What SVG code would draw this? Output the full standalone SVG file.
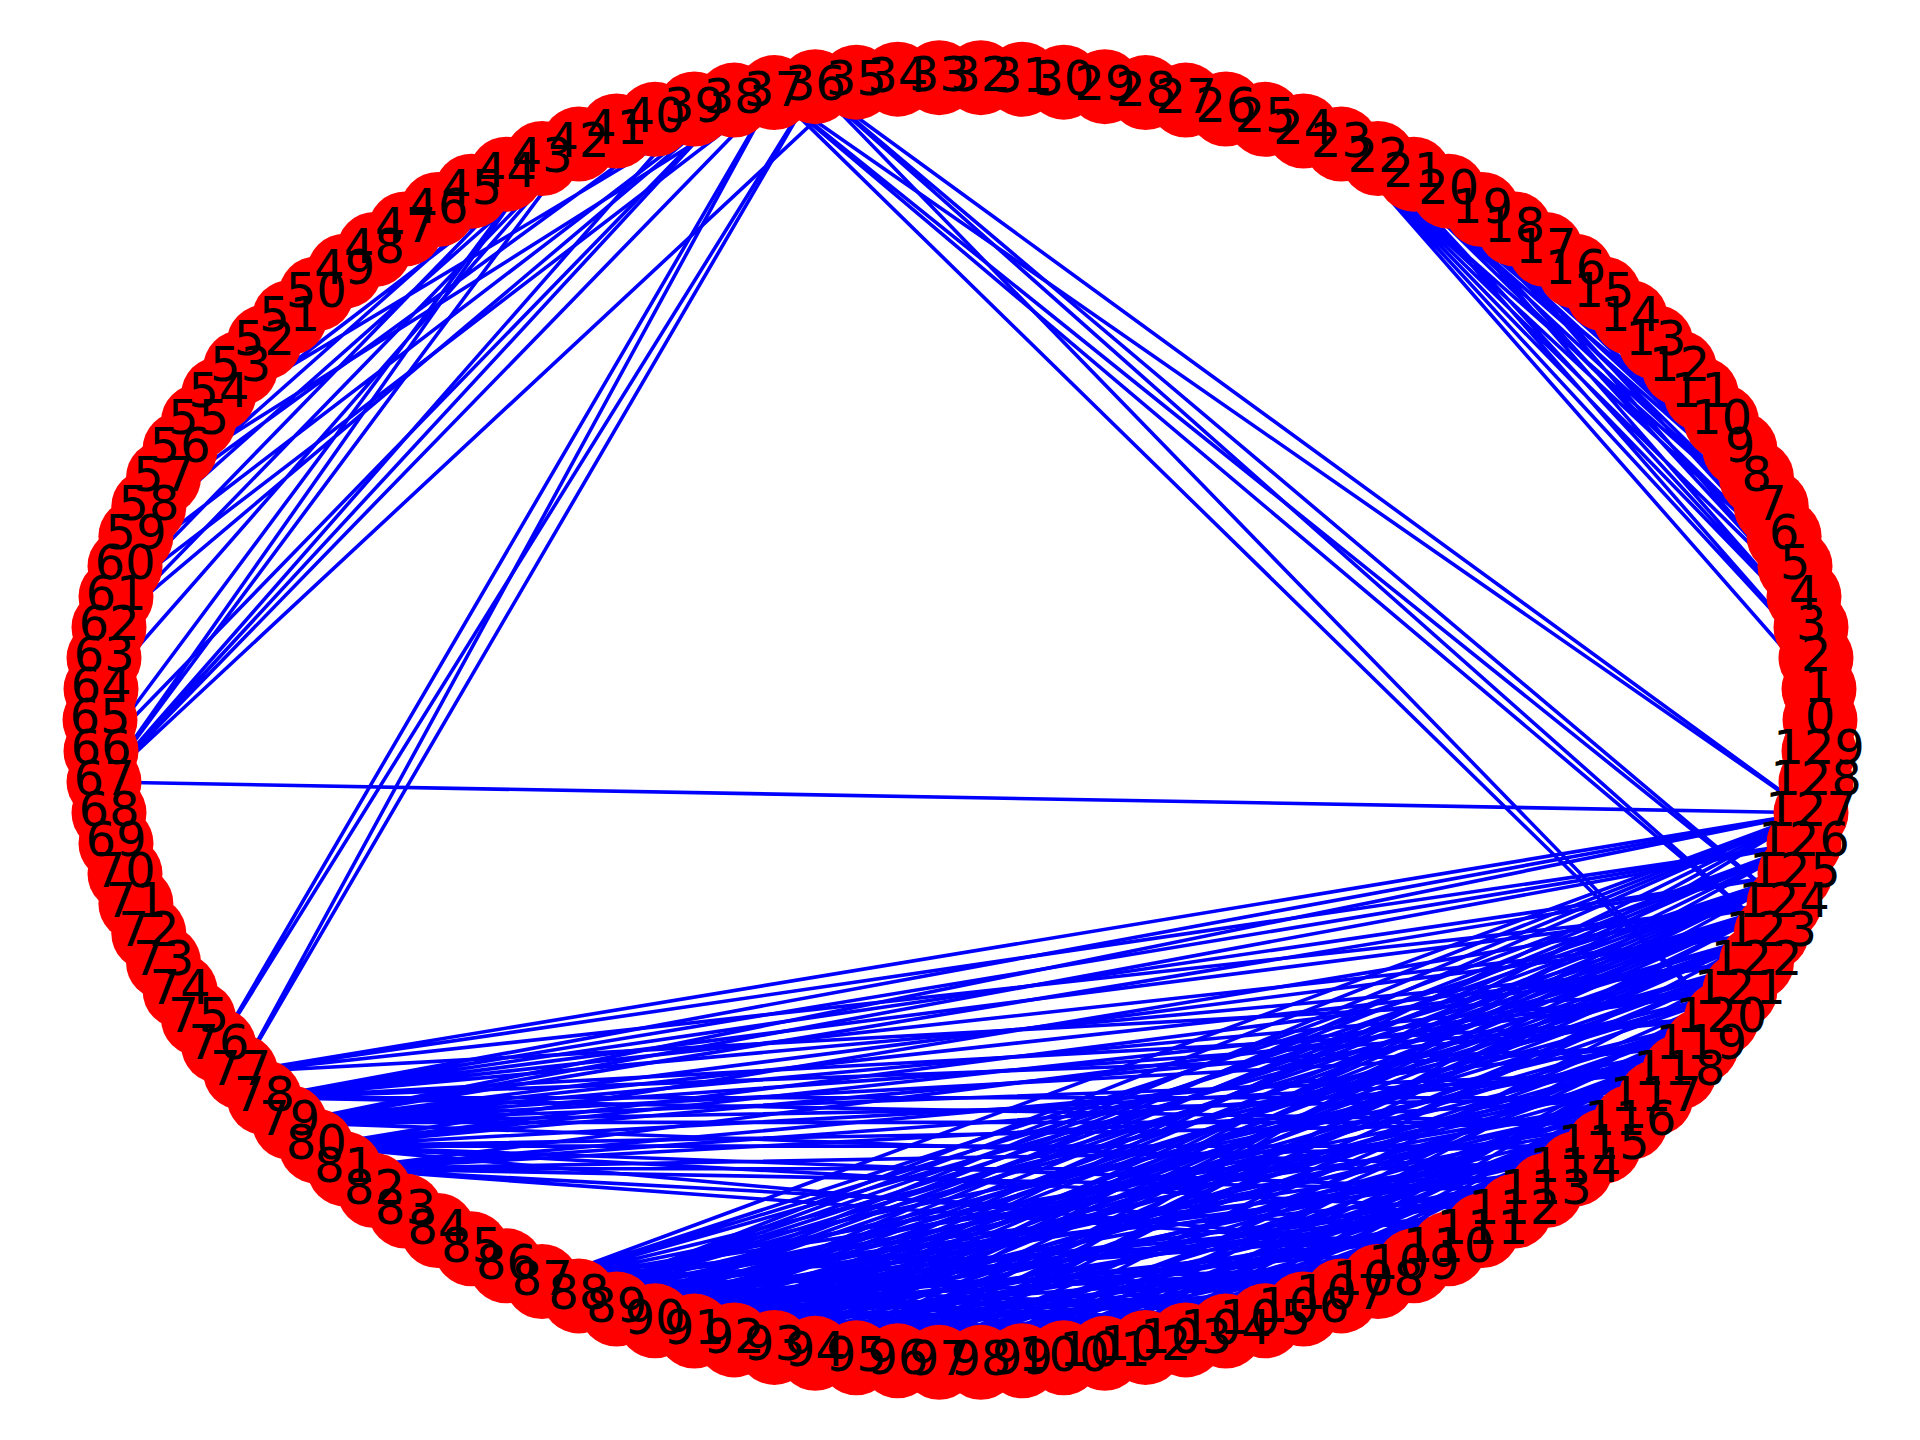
<svg xmlns="http://www.w3.org/2000/svg" width="1920" height="1440" viewBox="0 0 1920 1440">
<style>
.e{stroke:#0000ff;stroke-width:3.6;fill:none;stroke-linecap:butt}
.n{fill:#ff0000}
.t{font-family:"DejaVu Sans","Liberation Sans",sans-serif;font-size:48px;text-anchor:middle;fill:#000000}
</style>
<rect width="1920" height="1440" fill="#ffffff"/>
<g id="edges">
<path id="e36" class="e" d="M815.2 86.7 1721.5 1018.6M815.2 86.7 1771.3 933.3M815.2 86.7 1784.1 903.7M815.2 86.7 1811 812.8"/>
<path id="e37" class="e" d="M774.4 92.6 1721.5 1018.6M774.4 92.6 1771.3 933.3M774.4 92.6 1784.1 903.7M774.4 92.6 1811 812.8M774.4 92.6 163.5 477.7M774.4 92.6 116 596.6"/>
<path id="e67" class="e" d="M104 782 1811 812.8M104 782 856.3 82.2M104 782 774.4 92.6M104 782 734.1 100.1M104 782 694.3 109M104 782 578.7 144.1M104 782 542 158.5"/>
<path id="e76" class="e" d="M218.7 1045.7 815.2 86.7M218.7 1045.7 774.4 92.6"/>
<path id="e77" class="e" d="M240.6 1072 815.2 86.7M240.6 1072 774.4 92.6M240.6 1072 1811 812.8M240.6 1072 1804 843.4M240.6 1072 1784.1 903.7M240.6 1072 1739.9 990.8"/>
<path id="eleft" class="e" d="M101 751 734.1 100.1M101 751 542 158.5M101 689 578.7 144.1M109 627.2 734.1 100.1M109 627.2 578.7 144.1M116 596.6 542 158.5M125 566.2 734.1 100.1M135.9 536.3 578.7 144.1M148.8 506.7 694.3 109M148.8 506.7 542 158.5M180.1 449.2 578.7 144.1M198.5 421.4 734.1 100.1M198.5 421.4 542 158.5M218.7 394.3 578.7 144.1M240.6 368 542 158.5"/>
<path id="efan" class="e" d="M1341.3 144.1 1819 689M1341.3 144.1 1816 658M1341.3 144.1 1811 627.2M1341.3 144.1 1804 596.6M1341.3 144.1 1795 566.2M1341.3 144.1 1784.1 536.3M1378 158.5 1816 658M1378 158.5 1811 627.2M1378 158.5 1795 566.2M1378 158.5 1784.1 536.3M1378 158.5 1771.3 506.7M1378 158.5 1756.5 477.7M1413.8 174.2 1811 627.2M1413.8 174.2 1804 596.6M1413.8 174.2 1784.1 536.3M1413.8 174.2 1771.3 506.7M1413.8 174.2 1756.5 477.7M1413.8 174.2 1739.9 449.2M1413.8 174.2 1721.5 421.4M1448.5 191.2 1804 596.6M1448.5 191.2 1795 566.2M1448.5 191.2 1771.3 506.7M1448.5 191.2 1756.5 477.7M1448.5 191.2 1721.5 421.4M1448.5 191.2 1701.3 394.3M1448.5 191.2 1679.4 368M1482.2 209.5 1784.1 536.3M1482.2 209.5 1771.3 506.7M1482.2 209.5 1756.5 477.7M1482.2 209.5 1721.5 421.4M1482.2 209.5 1701.3 394.3M1482.2 209.5 1679.4 368M1514.6 228.9 1756.5 477.7M1514.6 228.9 1739.9 449.2M1514.6 228.9 1721.5 421.4M1514.6 228.9 1679.4 368M1514.6 228.9 1655.8 342.4M1545.7 249.5 1739.9 449.2M1545.7 249.5 1721.5 421.4M1545.7 249.5 1679.4 368M1575.4 271.2 1721.5 421.4M1575.4 271.2 1679.4 368"/>
<path id="e78" class="e" d="M264.3 1097.7 1811 812.8M264.3 1097.7 1804 843.4M264.3 1097.7 1795 873.8M264.3 1097.7 1784.1 903.7M264.3 1097.7 1771.3 933.3M264.3 1097.7 1756.5 962.3M264.3 1097.7 1721.5 1018.6M264.3 1097.7 1701.3 1045.7M264.3 1097.7 1655.8 1097.7M264.3 1097.7 1630.4 1122.4"/>
<path id="e79" class="e" d="M289.6 1122.4 1811 812.8M289.6 1122.4 1804 843.4M289.6 1122.4 1795 873.8M289.6 1122.4 1771.3 933.3M289.6 1122.4 1756.5 962.3M289.6 1122.4 1739.9 990.8M289.6 1122.4 1721.5 1018.6M289.6 1122.4 1701.3 1045.7M289.6 1122.4 1679.4 1072M289.6 1122.4 1655.8 1097.7M289.6 1122.4 1630.4 1122.4M289.6 1122.4 1575.4 1168.8"/>
<path id="e80" class="e" d="M316.3 1146.1 1784.1 903.7M316.3 1146.1 1756.5 962.3M316.3 1146.1 1739.9 990.8M316.3 1146.1 1721.5 1018.6M316.3 1146.1 1679.4 1072M316.3 1146.1 1630.4 1122.4M316.3 1146.1 1603.7 1146.1M316.3 1146.1 1545.7 1190.5M316.3 1146.1 1514.6 1211.1M316.3 1146.1 1448.5 1248.8"/>
<path id="e81" class="e" d="M344.6 1168.8 1739.9 990.8M344.6 1168.8 1701.3 1045.7M344.6 1168.8 1679.4 1072M344.6 1168.8 1655.8 1097.7M344.6 1168.8 1603.7 1146.1M344.6 1168.8 1575.4 1168.8M344.6 1168.8 1545.7 1190.5M344.6 1168.8 1482.2 1230.5M344.6 1168.8 1448.5 1248.8"/>
<path id="e87" class="e" d="M542 1281.5 897.7 1360.8M542 1281.5 1063.7 1357.8M542 1281.5 1145.6 1347.4M542 1281.5 1225.8 1331.1M542 1281.5 1303.5 1309M542 1281.5 1378 1281.5M542 1281.5 1482.2 1230.5M542 1281.5 1545.7 1190.5M542 1281.5 1575.4 1168.8M542 1281.5 1630.4 1122.4M542 1281.5 1655.8 1097.7M542 1281.5 1701.3 1045.7M542 1281.5 1739.9 990.8M542 1281.5 1771.3 933.3M542 1281.5 1784.1 903.7M542 1281.5 1795 873.8M542 1281.5 1811 812.8"/>
<path id="e88" class="e" d="M578.7 1295.9 856.3 1357.8M578.7 1295.9 939.2 1362.3M578.7 1295.9 1022.3 1360.8M578.7 1295.9 1104.8 1353.3M578.7 1295.9 1185.9 1339.9M578.7 1295.9 1265 1320.8M578.7 1295.9 1303.5 1309M578.7 1295.9 1413.8 1265.8M578.7 1295.9 1482.2 1230.5M578.7 1295.9 1514.6 1211.1M578.7 1295.9 1575.4 1168.8M578.7 1295.9 1603.7 1146.1M578.7 1295.9 1655.8 1097.7M578.7 1295.9 1679.4 1072M578.7 1295.9 1721.5 1018.6M578.7 1295.9 1756.5 962.3M578.7 1295.9 1784.1 903.7M578.7 1295.9 1804 843.4M578.7 1295.9 1795 873.8M578.7 1295.9 1811 812.8M578.7 1295.9 1771.3 933.3"/>
<path id="e89" class="e" d="M616.5 1309 856.3 1357.8M616.5 1309 939.2 1362.3M616.5 1309 1022.3 1360.8M616.5 1309 1104.8 1353.3M616.5 1309 1185.9 1339.9M616.5 1309 1265 1320.8M616.5 1309 1341.3 1295.9M616.5 1309 1413.8 1265.8M616.5 1309 1448.5 1248.8M616.5 1309 1514.6 1211.1M616.5 1309 1545.7 1190.5M616.5 1309 1603.7 1146.1M616.5 1309 1630.4 1122.4M616.5 1309 1679.4 1072M616.5 1309 1701.3 1045.7M616.5 1309 1739.9 990.8M616.5 1309 1756.5 962.3M616.5 1309 1784.1 903.7M616.5 1309 1804 843.4M616.5 1309 1811 812.8M616.5 1309 1795 873.8"/>
<path id="e90" class="e" d="M655 1320.8 815.2 1353.3M655 1320.8 897.7 1360.8M655 1320.8 980.8 1362.3M655 1320.8 1063.7 1357.8M655 1320.8 1145.6 1347.4M655 1320.8 1225.8 1331.1M655 1320.8 1341.3 1295.9M655 1320.8 1413.8 1265.8M655 1320.8 1482.2 1230.5M655 1320.8 1545.7 1190.5M655 1320.8 1603.7 1146.1M655 1320.8 1655.8 1097.7M655 1320.8 1679.4 1072M655 1320.8 1721.5 1018.6M655 1320.8 1739.9 990.8M655 1320.8 1771.3 933.3M655 1320.8 1784.1 903.7M655 1320.8 1795 873.8M655 1320.8 1804 843.4M655 1320.8 1811 812.8"/>
<path id="e91" class="e" d="M694.3 1331.1 897.7 1360.8M694.3 1331.1 980.8 1362.3M694.3 1331.1 1063.7 1357.8M694.3 1331.1 1145.6 1347.4M694.3 1331.1 1265 1320.8M694.3 1331.1 1341.3 1295.9M694.3 1331.1 1413.8 1265.8M694.3 1331.1 1482.2 1230.5M694.3 1331.1 1545.7 1190.5M694.3 1331.1 1603.7 1146.1M694.3 1331.1 1655.8 1097.7M694.3 1331.1 1701.3 1045.7M694.3 1331.1 1721.5 1018.6M694.3 1331.1 1756.5 962.3M694.3 1331.1 1771.3 933.3M694.3 1331.1 1784.1 903.7M694.3 1331.1 1795 873.8M694.3 1331.1 1804 843.4"/>
<path id="e92" class="e" d="M734.1 1339.9 939.2 1362.3M734.1 1339.9 1022.3 1360.8M734.1 1339.9 1104.8 1353.3M734.1 1339.9 1185.9 1339.9M734.1 1339.9 1303.5 1309M734.1 1339.9 1378 1281.5M734.1 1339.9 1448.5 1248.8M734.1 1339.9 1514.6 1211.1M734.1 1339.9 1575.4 1168.8M734.1 1339.9 1630.4 1122.4M734.1 1339.9 1679.4 1072M734.1 1339.9 1701.3 1045.7M734.1 1339.9 1739.9 990.8M734.1 1339.9 1756.5 962.3M734.1 1339.9 1771.3 933.3M734.1 1339.9 1784.1 903.7M734.1 1339.9 1795 873.8M734.1 1339.9 1811 812.8"/>
<path id="ebottom" class="e" d="M774.4 1347.4 1448.5 1248.8M774.4 1347.4 1514.6 1211.1M774.4 1347.4 1603.7 1146.1M774.4 1347.4 1655.8 1097.7M774.4 1347.4 1721.5 1018.6M774.4 1347.4 1771.3 933.3M774.4 1347.4 1784.1 903.7M774.4 1347.4 1795 873.8M774.4 1347.4 1804 843.4M815.2 1353.3 1448.5 1248.8M815.2 1353.3 1514.6 1211.1M815.2 1353.3 1575.4 1168.8M815.2 1353.3 1655.8 1097.7M815.2 1353.3 1721.5 1018.6M815.2 1353.3 1756.5 962.3M815.2 1353.3 1771.3 933.3M815.2 1353.3 1795 873.8M815.2 1353.3 1811 812.8M856.3 1357.8 1413.8 1265.8M856.3 1357.8 1482.2 1230.5M856.3 1357.8 1575.4 1168.8M856.3 1357.8 1630.4 1122.4M856.3 1357.8 1701.3 1045.7M856.3 1357.8 1756.5 962.3M856.3 1357.8 1784.1 903.7M856.3 1357.8 1804 843.4M897.7 1360.8 1482.2 1230.5M897.7 1360.8 1545.7 1190.5M897.7 1360.8 1630.4 1122.4M897.7 1360.8 1679.4 1072M897.7 1360.8 1739.9 990.8M897.7 1360.8 1784.1 903.7M897.7 1360.8 1795 873.8M897.7 1360.8 1811 812.8M939.2 1362.3 1448.5 1248.8M939.2 1362.3 1545.7 1190.5M939.2 1362.3 1603.7 1146.1M939.2 1362.3 1679.4 1072M939.2 1362.3 1721.5 1018.6M939.2 1362.3 1771.3 933.3M980.8 1362.3 1448.5 1248.8M980.8 1362.3 1514.6 1211.1M980.8 1362.3 1603.7 1146.1M980.8 1362.3 1655.8 1097.7M980.8 1362.3 1721.5 1018.6M980.8 1362.3 1756.5 962.3M1022.3 1360.8 1448.5 1248.8M1022.3 1360.8 1514.6 1211.1M1022.3 1360.8 1575.4 1168.8M1022.3 1360.8 1655.8 1097.7M1022.3 1360.8 1701.3 1045.7M1022.3 1360.8 1739.9 990.8M1063.7 1357.8 1482.2 1230.5M1063.7 1357.8 1575.4 1168.8M1063.7 1357.8 1630.4 1122.4M1063.7 1357.8 1701.3 1045.7M1063.7 1357.8 1739.9 990.8M1104.8 1353.3 1482.2 1230.5M1104.8 1353.3 1545.7 1190.5M1104.8 1353.3 1630.4 1122.4M1104.8 1353.3 1679.4 1072M1104.8 1353.3 1721.5 1018.6M1145.6 1347.4 1448.5 1248.8M1145.6 1347.4 1545.7 1190.5M1145.6 1347.4 1603.7 1146.1M1145.6 1347.4 1679.4 1072M1145.6 1347.4 1721.5 1018.6M1185.9 1339.9 1514.6 1211.1M1185.9 1339.9 1603.7 1146.1M1185.9 1339.9 1655.8 1097.7M1185.9 1339.9 1721.5 1018.6M1225.8 1331.1 1514.6 1211.1M1225.8 1331.1 1575.4 1168.8M1225.8 1331.1 1655.8 1097.7M1225.8 1331.1 1701.3 1045.7M1265 1320.8 1482.2 1230.5M1265 1320.8 1575.4 1168.8M1265 1320.8 1630.4 1122.4M1303.5 1309 1545.7 1190.5M1303.5 1309 1630.4 1122.4M1303.5 1309 1679.4 1072M1341.3 1295.9 1603.7 1146.1M1341.3 1295.9 1679.4 1072M1378 1281.5 1630.4 1122.4M1378 1281.5 1721.5 1018.6"/>
</g>
<g id="nodes">
<g id="node-0"><circle class="n" cx="1820.0" cy="720.0" r="37.5"/></g>
<g id="node-1"><circle class="n" cx="1819.0" cy="689.0" r="37.5"/></g>
<g id="node-2"><circle class="n" cx="1816.0" cy="658.0" r="37.5"/></g>
<g id="node-3"><circle class="n" cx="1811.0" cy="627.2" r="37.5"/></g>
<g id="node-4"><circle class="n" cx="1804.0" cy="596.6" r="37.5"/></g>
<g id="node-5"><circle class="n" cx="1795.0" cy="566.2" r="37.5"/></g>
<g id="node-6"><circle class="n" cx="1784.1" cy="536.3" r="37.5"/></g>
<g id="node-7"><circle class="n" cx="1771.3" cy="506.7" r="37.5"/></g>
<g id="node-8"><circle class="n" cx="1756.5" cy="477.7" r="37.5"/></g>
<g id="node-9"><circle class="n" cx="1739.9" cy="449.2" r="37.5"/></g>
<g id="node-10"><circle class="n" cx="1721.5" cy="421.4" r="37.5"/></g>
<g id="node-11"><circle class="n" cx="1701.3" cy="394.3" r="37.5"/></g>
<g id="node-12"><circle class="n" cx="1679.4" cy="368.0" r="37.5"/></g>
<g id="node-13"><circle class="n" cx="1655.8" cy="342.4" r="37.5"/></g>
<g id="node-14"><circle class="n" cx="1630.4" cy="317.6" r="37.5"/></g>
<g id="node-15"><circle class="n" cx="1603.7" cy="293.9" r="37.5"/></g>
<g id="node-16"><circle class="n" cx="1575.4" cy="271.2" r="37.5"/></g>
<g id="node-17"><circle class="n" cx="1545.7" cy="249.5" r="37.5"/></g>
<g id="node-18"><circle class="n" cx="1514.6" cy="228.9" r="37.5"/></g>
<g id="node-19"><circle class="n" cx="1482.2" cy="209.5" r="37.5"/></g>
<g id="node-20"><circle class="n" cx="1448.5" cy="191.2" r="37.5"/></g>
<g id="node-21"><circle class="n" cx="1413.8" cy="174.2" r="37.5"/></g>
<g id="node-22"><circle class="n" cx="1378.0" cy="158.5" r="37.5"/></g>
<g id="node-23"><circle class="n" cx="1341.3" cy="144.1" r="37.5"/></g>
<g id="node-24"><circle class="n" cx="1303.5" cy="131.0" r="37.5"/></g>
<g id="node-25"><circle class="n" cx="1265.0" cy="119.3" r="37.5"/></g>
<g id="node-26"><circle class="n" cx="1225.8" cy="109.0" r="37.5"/></g>
<g id="node-27"><circle class="n" cx="1185.9" cy="100.1" r="37.5"/></g>
<g id="node-28"><circle class="n" cx="1145.6" cy="92.6" r="37.5"/></g>
<g id="node-29"><circle class="n" cx="1104.8" cy="86.7" r="37.5"/></g>
<g id="node-30"><circle class="n" cx="1063.7" cy="82.2" r="37.5"/></g>
<g id="node-31"><circle class="n" cx="1022.3" cy="79.2" r="37.5"/></g>
<g id="node-32"><circle class="n" cx="980.8" cy="77.7" r="37.5"/></g>
<g id="node-33"><circle class="n" cx="939.2" cy="77.7" r="37.5"/></g>
<g id="node-34"><circle class="n" cx="897.7" cy="79.2" r="37.5"/></g>
<g id="node-35"><circle class="n" cx="856.3" cy="82.2" r="37.5"/></g>
<g id="node-36"><circle class="n" cx="815.2" cy="86.7" r="37.5"/></g>
<g id="node-37"><circle class="n" cx="774.4" cy="92.6" r="37.5"/></g>
<g id="node-38"><circle class="n" cx="734.1" cy="100.1" r="37.5"/></g>
<g id="node-39"><circle class="n" cx="694.3" cy="109.0" r="37.5"/></g>
<g id="node-40"><circle class="n" cx="655.0" cy="119.3" r="37.5"/></g>
<g id="node-41"><circle class="n" cx="616.5" cy="131.0" r="37.5"/></g>
<g id="node-42"><circle class="n" cx="578.7" cy="144.1" r="37.5"/></g>
<g id="node-43"><circle class="n" cx="542.0" cy="158.5" r="37.5"/></g>
<g id="node-44"><circle class="n" cx="506.2" cy="174.2" r="37.5"/></g>
<g id="node-45"><circle class="n" cx="471.5" cy="191.2" r="37.5"/></g>
<g id="node-46"><circle class="n" cx="437.8" cy="209.5" r="37.5"/></g>
<g id="node-47"><circle class="n" cx="405.4" cy="228.9" r="37.5"/></g>
<g id="node-48"><circle class="n" cx="374.3" cy="249.5" r="37.5"/></g>
<g id="node-49"><circle class="n" cx="344.6" cy="271.2" r="37.5"/></g>
<g id="node-50"><circle class="n" cx="316.3" cy="293.9" r="37.5"/></g>
<g id="node-51"><circle class="n" cx="289.6" cy="317.6" r="37.5"/></g>
<g id="node-52"><circle class="n" cx="264.3" cy="342.4" r="37.5"/></g>
<g id="node-53"><circle class="n" cx="240.6" cy="368.0" r="37.5"/></g>
<g id="node-54"><circle class="n" cx="218.7" cy="394.3" r="37.5"/></g>
<g id="node-55"><circle class="n" cx="198.5" cy="421.4" r="37.5"/></g>
<g id="node-56"><circle class="n" cx="180.1" cy="449.2" r="37.5"/></g>
<g id="node-57"><circle class="n" cx="163.5" cy="477.7" r="37.5"/></g>
<g id="node-58"><circle class="n" cx="148.8" cy="506.7" r="37.5"/></g>
<g id="node-59"><circle class="n" cx="135.9" cy="536.3" r="37.5"/></g>
<g id="node-60"><circle class="n" cx="125.0" cy="566.2" r="37.5"/></g>
<g id="node-61"><circle class="n" cx="116.0" cy="596.6" r="37.5"/></g>
<g id="node-62"><circle class="n" cx="109.0" cy="627.2" r="37.5"/></g>
<g id="node-63"><circle class="n" cx="104.0" cy="658.0" r="37.5"/></g>
<g id="node-64"><circle class="n" cx="101.0" cy="689.0" r="37.5"/></g>
<g id="node-65"><circle class="n" cx="100.0" cy="720.0" r="37.5"/></g>
<g id="node-66"><circle class="n" cx="101.0" cy="751.0" r="37.5"/></g>
<g id="node-67"><circle class="n" cx="104.0" cy="782.0" r="37.5"/></g>
<g id="node-68"><circle class="n" cx="109.0" cy="812.8" r="37.5"/></g>
<g id="node-69"><circle class="n" cx="116.0" cy="843.4" r="37.5"/></g>
<g id="node-70"><circle class="n" cx="125.0" cy="873.8" r="37.5"/></g>
<g id="node-71"><circle class="n" cx="135.9" cy="903.7" r="37.5"/></g>
<g id="node-72"><circle class="n" cx="148.8" cy="933.3" r="37.5"/></g>
<g id="node-73"><circle class="n" cx="163.5" cy="962.3" r="37.5"/></g>
<g id="node-74"><circle class="n" cx="180.1" cy="990.8" r="37.5"/></g>
<g id="node-75"><circle class="n" cx="198.5" cy="1018.6" r="37.5"/></g>
<g id="node-76"><circle class="n" cx="218.7" cy="1045.7" r="37.5"/></g>
<g id="node-77"><circle class="n" cx="240.6" cy="1072.0" r="37.5"/></g>
<g id="node-78"><circle class="n" cx="264.3" cy="1097.7" r="37.5"/></g>
<g id="node-79"><circle class="n" cx="289.6" cy="1122.4" r="37.5"/></g>
<g id="node-80"><circle class="n" cx="316.3" cy="1146.1" r="37.5"/></g>
<g id="node-81"><circle class="n" cx="344.6" cy="1168.8" r="37.5"/></g>
<g id="node-82"><circle class="n" cx="374.3" cy="1190.5" r="37.5"/></g>
<g id="node-83"><circle class="n" cx="405.4" cy="1211.1" r="37.5"/></g>
<g id="node-84"><circle class="n" cx="437.8" cy="1230.5" r="37.5"/></g>
<g id="node-85"><circle class="n" cx="471.5" cy="1248.8" r="37.5"/></g>
<g id="node-86"><circle class="n" cx="506.2" cy="1265.8" r="37.5"/></g>
<g id="node-87"><circle class="n" cx="542.0" cy="1281.5" r="37.5"/></g>
<g id="node-88"><circle class="n" cx="578.7" cy="1295.9" r="37.5"/></g>
<g id="node-89"><circle class="n" cx="616.5" cy="1309.0" r="37.5"/></g>
<g id="node-90"><circle class="n" cx="655.0" cy="1320.8" r="37.5"/></g>
<g id="node-91"><circle class="n" cx="694.3" cy="1331.1" r="37.5"/></g>
<g id="node-92"><circle class="n" cx="734.1" cy="1339.9" r="37.5"/></g>
<g id="node-93"><circle class="n" cx="774.4" cy="1347.4" r="37.5"/></g>
<g id="node-94"><circle class="n" cx="815.2" cy="1353.3" r="37.5"/></g>
<g id="node-95"><circle class="n" cx="856.3" cy="1357.8" r="37.5"/></g>
<g id="node-96"><circle class="n" cx="897.7" cy="1360.8" r="37.5"/></g>
<g id="node-97"><circle class="n" cx="939.2" cy="1362.3" r="37.5"/></g>
<g id="node-98"><circle class="n" cx="980.8" cy="1362.3" r="37.5"/></g>
<g id="node-99"><circle class="n" cx="1022.3" cy="1360.8" r="37.5"/></g>
<g id="node-100"><circle class="n" cx="1063.7" cy="1357.8" r="37.5"/></g>
<g id="node-101"><circle class="n" cx="1104.8" cy="1353.3" r="37.5"/></g>
<g id="node-102"><circle class="n" cx="1145.6" cy="1347.4" r="37.5"/></g>
<g id="node-103"><circle class="n" cx="1185.9" cy="1339.9" r="37.5"/></g>
<g id="node-104"><circle class="n" cx="1225.8" cy="1331.1" r="37.5"/></g>
<g id="node-105"><circle class="n" cx="1265.0" cy="1320.8" r="37.5"/></g>
<g id="node-106"><circle class="n" cx="1303.5" cy="1309.0" r="37.5"/></g>
<g id="node-107"><circle class="n" cx="1341.3" cy="1295.9" r="37.5"/></g>
<g id="node-108"><circle class="n" cx="1378.0" cy="1281.5" r="37.5"/></g>
<g id="node-109"><circle class="n" cx="1413.8" cy="1265.8" r="37.5"/></g>
<g id="node-110"><circle class="n" cx="1448.5" cy="1248.8" r="37.5"/></g>
<g id="node-111"><circle class="n" cx="1482.2" cy="1230.5" r="37.5"/></g>
<g id="node-112"><circle class="n" cx="1514.6" cy="1211.1" r="37.5"/></g>
<g id="node-113"><circle class="n" cx="1545.7" cy="1190.5" r="37.5"/></g>
<g id="node-114"><circle class="n" cx="1575.4" cy="1168.8" r="37.5"/></g>
<g id="node-115"><circle class="n" cx="1603.7" cy="1146.1" r="37.5"/></g>
<g id="node-116"><circle class="n" cx="1630.4" cy="1122.4" r="37.5"/></g>
<g id="node-117"><circle class="n" cx="1655.8" cy="1097.7" r="37.5"/></g>
<g id="node-118"><circle class="n" cx="1679.4" cy="1072.0" r="37.5"/></g>
<g id="node-119"><circle class="n" cx="1701.3" cy="1045.7" r="37.5"/></g>
<g id="node-120"><circle class="n" cx="1721.5" cy="1018.6" r="37.5"/></g>
<g id="node-121"><circle class="n" cx="1739.9" cy="990.8" r="37.5"/></g>
<g id="node-122"><circle class="n" cx="1756.5" cy="962.3" r="37.5"/></g>
<g id="node-123"><circle class="n" cx="1771.3" cy="933.3" r="37.5"/></g>
<g id="node-124"><circle class="n" cx="1784.1" cy="903.7" r="37.5"/></g>
<g id="node-125"><circle class="n" cx="1795.0" cy="873.8" r="37.5"/></g>
<g id="node-126"><circle class="n" cx="1804.0" cy="843.4" r="37.5"/></g>
<g id="node-127"><circle class="n" cx="1811.0" cy="812.8" r="37.5"/></g>
<g id="node-128"><circle class="n" cx="1816.0" cy="782.0" r="37.5"/></g>
<g id="node-129"><circle class="n" cx="1819.0" cy="751.0" r="37.5"/></g>
</g>
<g id="labels" class="t">
<text x="1820.0" y="733.0">0</text>
<text x="1819.0" y="702.0">1</text>
<text x="1816.0" y="671.0">2</text>
<text x="1811.0" y="640.2">3</text>
<text x="1804.0" y="609.6">4</text>
<text x="1795.0" y="579.2">5</text>
<text x="1784.1" y="549.3">6</text>
<text x="1771.3" y="519.7">7</text>
<text x="1756.5" y="490.7">8</text>
<text x="1739.9" y="462.2">9</text>
<text x="1721.5" y="434.4">10</text>
<text x="1701.3" y="407.3">11</text>
<text x="1679.4" y="381.0">12</text>
<text x="1655.8" y="355.4">13</text>
<text x="1630.4" y="330.6">14</text>
<text x="1603.7" y="306.9">15</text>
<text x="1575.4" y="284.2">16</text>
<text x="1545.7" y="262.5">17</text>
<text x="1514.6" y="241.9">18</text>
<text x="1482.2" y="222.5">19</text>
<text x="1448.5" y="204.2">20</text>
<text x="1413.8" y="187.2">21</text>
<text x="1378.0" y="171.5">22</text>
<text x="1341.3" y="157.1">23</text>
<text x="1303.5" y="144.0">24</text>
<text x="1265.0" y="132.3">25</text>
<text x="1225.8" y="122.0">26</text>
<text x="1185.9" y="113.1">27</text>
<text x="1145.6" y="105.6">28</text>
<text x="1104.8" y="99.7">29</text>
<text x="1063.7" y="95.2">30</text>
<text x="1022.3" y="92.2">31</text>
<text x="980.8" y="90.7">32</text>
<text x="939.2" y="90.7">33</text>
<text x="897.7" y="92.2">34</text>
<text x="856.3" y="95.2">35</text>
<text x="815.2" y="99.7">36</text>
<text x="774.4" y="105.6">37</text>
<text x="734.1" y="113.1">38</text>
<text x="694.3" y="122.0">39</text>
<text x="655.0" y="132.3">40</text>
<text x="616.5" y="144.0">41</text>
<text x="578.7" y="157.1">42</text>
<text x="542.0" y="171.5">43</text>
<text x="506.2" y="187.2">44</text>
<text x="471.5" y="204.2">45</text>
<text x="437.8" y="222.5">46</text>
<text x="405.4" y="241.9">47</text>
<text x="374.3" y="262.5">48</text>
<text x="344.6" y="284.2">49</text>
<text x="316.3" y="306.9">50</text>
<text x="289.6" y="330.6">51</text>
<text x="264.3" y="355.4">52</text>
<text x="240.6" y="381.0">53</text>
<text x="218.7" y="407.3">54</text>
<text x="198.5" y="434.4">55</text>
<text x="180.1" y="462.2">56</text>
<text x="163.5" y="490.7">57</text>
<text x="148.8" y="519.7">58</text>
<text x="135.9" y="549.3">59</text>
<text x="125.0" y="579.2">60</text>
<text x="116.0" y="609.6">61</text>
<text x="109.0" y="640.2">62</text>
<text x="104.0" y="671.0">63</text>
<text x="101.0" y="702.0">64</text>
<text x="100.0" y="733.0">65</text>
<text x="101.0" y="764.0">66</text>
<text x="104.0" y="795.0">67</text>
<text x="109.0" y="825.8">68</text>
<text x="116.0" y="856.4">69</text>
<text x="125.0" y="886.8">70</text>
<text x="135.9" y="916.7">71</text>
<text x="148.8" y="946.3">72</text>
<text x="163.5" y="975.3">73</text>
<text x="180.1" y="1003.8">74</text>
<text x="198.5" y="1031.6">75</text>
<text x="218.7" y="1058.7">76</text>
<text x="240.6" y="1085.0">77</text>
<text x="264.3" y="1110.7">78</text>
<text x="289.6" y="1135.4">79</text>
<text x="316.3" y="1159.1">80</text>
<text x="344.6" y="1181.8">81</text>
<text x="374.3" y="1203.5">82</text>
<text x="405.4" y="1224.1">83</text>
<text x="437.8" y="1243.5">84</text>
<text x="471.5" y="1261.8">85</text>
<text x="506.2" y="1278.8">86</text>
<text x="542.0" y="1294.5">87</text>
<text x="578.7" y="1308.9">88</text>
<text x="616.5" y="1322.0">89</text>
<text x="655.0" y="1333.8">90</text>
<text x="694.3" y="1344.1">91</text>
<text x="734.1" y="1352.9">92</text>
<text x="774.4" y="1360.4">93</text>
<text x="815.2" y="1366.3">94</text>
<text x="856.3" y="1370.8">95</text>
<text x="897.7" y="1373.8">96</text>
<text x="939.2" y="1375.3">97</text>
<text x="980.8" y="1375.3">98</text>
<text x="1022.3" y="1373.8">99</text>
<text x="1063.7" y="1370.8">100</text>
<text x="1104.8" y="1366.3">101</text>
<text x="1145.6" y="1360.4">102</text>
<text x="1185.9" y="1352.9">103</text>
<text x="1225.8" y="1344.1">104</text>
<text x="1265.0" y="1333.8">105</text>
<text x="1303.5" y="1322.0">106</text>
<text x="1341.3" y="1308.9">107</text>
<text x="1378.0" y="1294.5">108</text>
<text x="1413.8" y="1278.8">109</text>
<text x="1448.5" y="1261.8">110</text>
<text x="1482.2" y="1243.5">111</text>
<text x="1514.6" y="1224.1">112</text>
<text x="1545.7" y="1203.5">113</text>
<text x="1575.4" y="1181.8">114</text>
<text x="1603.7" y="1159.1">115</text>
<text x="1630.4" y="1135.4">116</text>
<text x="1655.8" y="1110.7">117</text>
<text x="1679.4" y="1085.0">118</text>
<text x="1701.3" y="1058.7">119</text>
<text x="1721.5" y="1031.6">120</text>
<text x="1739.9" y="1003.8">121</text>
<text x="1756.5" y="975.3">122</text>
<text x="1771.3" y="946.3">123</text>
<text x="1784.1" y="916.7">124</text>
<text x="1795.0" y="886.8">125</text>
<text x="1804.0" y="856.4">126</text>
<text x="1811.0" y="825.8">127</text>
<text x="1816.0" y="795.0">128</text>
<text x="1819.0" y="764.0">129</text>
</g>
</svg>
